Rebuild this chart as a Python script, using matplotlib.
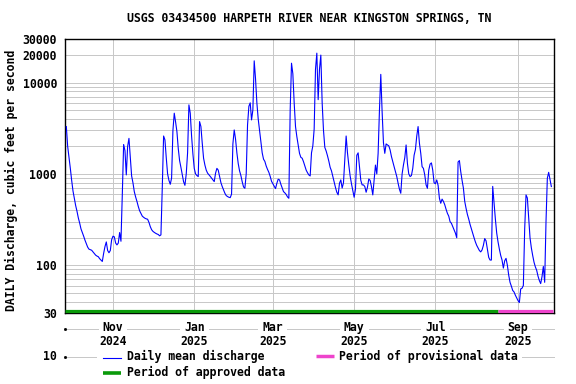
import numpy as np
import matplotlib
matplotlib.use("Agg")
import matplotlib.pyplot as plt
import matplotlib.dates as mdates
import matplotlib.transforms as mtransforms
from matplotlib.lines import Line2D
from matplotlib.patches import Rectangle
from matplotlib.ticker import FixedLocator, NullFormatter

# ---------------- data ----------------
title = "USGS 03434500 HARPETH RIVER NEAR KINGSTON SPRINGS, TN"
ylabel = "DAILY Discharge, cubic feet per second"
start_date = "2024-09-27"
discharge = [
    3300, 2000, 1520, 1150, 850, 650, 540, 450, 390, 330,
    290, 250, 228, 208, 188, 172, 158, 150, 148, 146,
    140, 134, 129, 126, 124, 118, 114, 110, 135, 160,
    180, 145, 137, 145, 190, 208, 205, 175, 167, 175,
    228, 183, 590, 2100, 1800, 975, 2000, 2450, 1500, 950,
    800, 640, 560, 500, 440, 395, 370, 345, 335, 327,
    322, 319, 295, 265, 245, 235, 229, 224, 220, 217,
    210, 215, 700, 2600, 2360, 1500, 1000, 850, 770, 900,
    3000, 4620, 3700, 2900, 1900, 1400, 1180, 980, 820, 750,
    1000, 1700, 5700, 4620, 2600, 1650, 1150, 1000, 960, 935,
    3740, 3300, 2170, 1485, 1250, 1100, 1020, 980, 940, 900,
    860, 824, 1020, 1150, 1100, 935, 804, 727, 668, 614,
    579, 565, 555, 550, 600, 2130, 3030, 2400, 1700, 1300,
    1080, 960, 820, 720, 696, 1000, 3440, 5500, 6000, 3900,
    5020, 17300, 11000, 6000, 4000, 3000, 2200, 1700, 1450, 1370,
    1220, 1120, 1040, 940, 830, 780, 730, 690, 790, 875,
    860, 770, 700, 640, 620, 595, 560, 541, 5000, 16300,
    12500, 6000, 3300, 2560, 2075, 1680, 1520, 1485, 1360, 1220,
    1100, 1030, 975, 950, 1700, 2030, 3100, 14000, 21000, 6500,
    14000, 20000, 6000, 3000, 1950, 1780, 1580, 1380, 1180, 1080,
    940, 810, 710, 630, 590, 790, 860, 700, 800, 1420,
    2600, 1700, 1250, 950, 780, 660, 555, 680, 1600, 1700,
    1200, 850, 758, 758, 727, 630, 714, 880, 850, 727,
    589, 860, 1250, 1000, 1680, 5000, 12300, 4800, 2200, 1680,
    2130, 2075, 2030, 1830, 1550, 1360, 1200, 1060, 935, 790,
    680, 614, 1000, 1250, 1500, 2075, 1300, 1000, 935, 960,
    1150, 1600, 1850, 2600, 3300, 2170, 1680, 1200, 1150, 975,
    758, 696, 1100, 1280, 1320, 1100, 800, 780, 860, 750,
    541, 477, 530, 500, 460, 410, 370, 345, 300, 288,
    265, 243, 225, 200, 1350, 1400, 1060, 850, 700, 500,
    420, 360, 320, 280, 250, 225, 200, 180, 165, 155,
    145, 140, 147, 165, 196, 185, 150, 122, 114, 114,
    730, 480, 320, 225, 180, 150, 128, 114, 93, 112,
    119, 100, 78, 65, 59, 53, 51, 47, 44, 41,
    39, 55, 56, 60, 250, 589, 545, 330, 200, 155,
    128, 108, 96, 88, 76, 68, 63, 75, 97, 65,
    300, 897, 1040, 870, 727,
]
approved_period = ["2024-09-26", "2025-08-17"]
provisional_period = ["2025-08-17", "2025-09-27"]
x_range = ["2024-09-26", "2025-09-28"]
x_tick_dates = ["2024-11-01", "2025-01-01", "2025-03-01", "2025-05-01", "2025-07-01", "2025-09-01"]
x_tick_labels = ["Nov\n2024", "Jan\n2025", "Mar\n2025", "May\n2025", "Jul\n2025", "Sep\n2025"]
y_tick_values = [30, 100, 1000, 10000, 20000, 30000]
y_tick_labels = ["30", "100", "1000", "10000", "20000", "30000"]
y_minor_grid = [40, 50, 60, 70, 80, 90, 200, 300, 400, 500, 600, 700, 800, 900,
                2000, 3000, 4000, 5000, 6000, 7000, 8000, 9000]
below_grid = [20, 10]

# ---------------- style ----------------
W, H = 576, 384
FONT = dict(family="DejaVu Sans Mono", weight="bold", size=8.3)
BLUE = "#0000ff"
GREEN = "#0a9a0a"
MAGENTA = "#ee44cc"
GRID = "#c8c8c8"
GLW = 0.55

fig = plt.figure(figsize=(W / 100, H / 100), dpi=100)
L, R, T, B = 65, 554, 39, 313
ax = fig.add_axes([L / W, 1 - B / H, (R - L) / W, (B - T) / H])
ax.set_yscale("log")
ax.set_ylim(30, 30000)
ax.set_xlim(np.datetime64(x_range[0]), np.datetime64(x_range[1]))
ax.set_axisbelow(True)

dates = np.datetime64(start_date) + np.arange(len(discharge))
ax.plot(dates, discharge, color=BLUE, lw=0.8, zorder=3)

# ticks / grid
ax.yaxis.set_major_locator(FixedLocator(y_tick_values))
ax.yaxis.set_minor_locator(FixedLocator(y_minor_grid))
ax.yaxis.set_minor_formatter(NullFormatter())
ax.set_yticklabels(y_tick_labels)
xt = mdates.date2num(np.array(x_tick_dates, dtype="datetime64[D]"))
ax.xaxis.set_major_locator(FixedLocator(xt))
ax.set_xticklabels(x_tick_labels)
ax.xaxis.set_minor_locator(FixedLocator([]))
ax.grid(True, which="both", axis="y", color=GRID, lw=GLW, antialiased=False)
ax.grid(True, which="major", axis="x", color=GRID, lw=GLW, antialiased=False)
ax.tick_params(axis="both", which="both", length=0)
ax.tick_params(axis="y", pad=5.8)
ax.tick_params(axis="x", pad=5.5)
for lbl in ax.get_yticklabels() + ax.get_xticklabels():
    lbl.set_fontfamily(FONT["family"])
    lbl.set_fontweight(FONT["weight"])
    lbl.set_fontsize(FONT["size"])
for lbl in ax.get_xticklabels():
    lbl.set_linespacing(1.1)
    lbl.set_bbox(dict(facecolor="white", edgecolor="none", pad=0.5))
for sp in ax.spines.values():
    sp.set_color("black")
    sp.set_linewidth(1.0)

# phantom grid lines below axis (20 and 10)
trans_ay = mtransforms.blended_transform_factory(ax.transAxes, ax.transData)
for v in below_grid:
    ax.plot([0, 1], [v, v], transform=trans_ay, color=GRID, lw=GLW,
            clip_on=False, zorder=0.3, antialiased=False)
    ax.plot([0], [v], transform=trans_ay, marker="s", ms=1.0, color="black",
            clip_on=False, zorder=0.35)
ax.text(-8 / (R - L), below_grid[1], "10", transform=trans_ay, ha="right",
        va="center", clip_on=False, **FONT)

# approval period bars along the bottom
trans_xa = mtransforms.blended_transform_factory(ax.transData, ax.transAxes)
ybar = 2.0 / (B - T)
ax.plot(np.array(approved_period, dtype="datetime64[D]"), [ybar, ybar],
        transform=trans_xa, color=GREEN, lw=2.3, solid_capstyle="butt",
        clip_on=False, zorder=4)
ax.plot(np.array(provisional_period, dtype="datetime64[D]"), [ybar, ybar],
        transform=trans_xa, color=MAGENTA, lw=2.3, solid_capstyle="butt",
        clip_on=False, zorder=4)

# title and y label
fig.text(309 / W, 1 - 19 / H, title, ha="center", va="center", **FONT)
fig.text(11 / W, 1 - 180 / H, ylabel, rotation=90, ha="center", va="center", **FONT)

# legend (manual)
fig.add_artist(Rectangle((97 / W, 1 - 382 / H), (522 - 97) / W, 33 / H,
                         transform=fig.transFigure, facecolor="white",
                         edgecolor="none", zorder=1))
fig.add_artist(Line2D([103 / W, 121 / W], [1 - 357.5 / H] * 2, color=BLUE, lw=0.8,
                      transform=fig.transFigure, zorder=2))
fig.add_artist(Line2D([316 / W, 334 / W], [1 - 356 / H] * 2, color=MAGENTA, lw=2.5,
                      solid_capstyle="butt", transform=fig.transFigure, zorder=2))
fig.add_artist(Line2D([103 / W, 121 / W], [1 - 372.5 / H] * 2, color=GREEN, lw=2.6,
                      solid_capstyle="butt", transform=fig.transFigure, zorder=2))
fig.text(127 / W, 1 - 360 / H, "Daily mean discharge", va="baseline", ha="left", **FONT)
fig.text(339 / W, 1 - 360 / H, "Period of provisional data", va="baseline", ha="left", **FONT)
fig.text(127 / W, 1 - 376 / H, "Period of approved data", va="baseline", ha="left", **FONT)

fig.savefig("out.png", dpi=100)
